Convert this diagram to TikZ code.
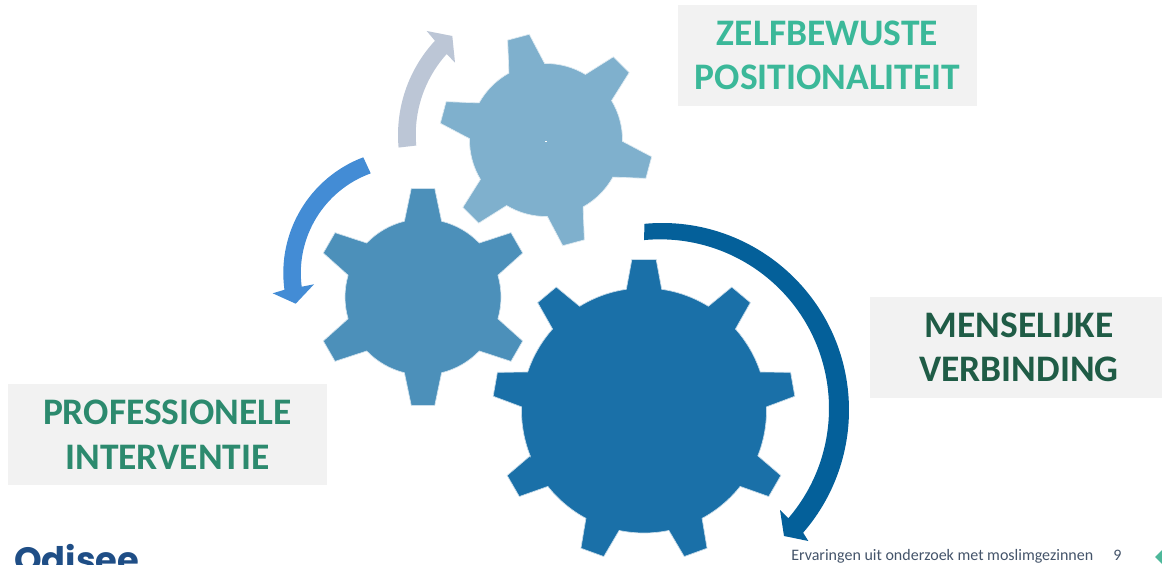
\documentclass[tikz,border=0pt]{standalone}
\usepackage{fontspec}
\setmainfont{Carlito}
\newfontfamily\logofont{Poppins}
\definecolor{gearA}{HTML}{1A70A8}
\definecolor{gearB}{HTML}{4C90BA}
\definecolor{gearC}{HTML}{7FB0CD}
\definecolor{arrA}{HTML}{04609A}
\definecolor{arrB}{HTML}{438CD5}
\definecolor{arrC}{HTML}{BCC6D6}
\definecolor{boxgrey}{HTML}{F2F2F2}
\definecolor{txtA}{HTML}{3BB899}
\definecolor{txtB}{HTML}{1F5C46}
\definecolor{txtC}{HTML}{2C8A6E}
\definecolor{foot}{HTML}{44546A}
\definecolor{logoblue}{HTML}{1F4E86}
\definecolor{tri}{HTML}{4DB89A}
\tikzset{
  gearshape/.style={draw=#1!25!white,line width=.5pt,fill=#1},
  labelbox/.style={fill=boxgrey,inner sep=0pt,align=center,font=\bfseries\fontsize{28.1}{33.4}\selectfont},
  footer/.style={inner sep=0pt,text=foot,font=\fontsize{12}{14}\selectfont,anchor=base west}
}
% #1 cx, #2 cy (y up), #3 root r, #4 tip r, #5 base half angle, #6 tip half angle, #7 first tooth, #8 teeth, #9 colour
\newcommand{\gearpath}[9]{%
  \begin{scope}[shift={(#1,#2)}]
    \pgfmathsetmacro{\gstep}{360/#8}
    \pgfmathsetmacro{\gfirst}{#7-#5}
    \draw[gearshape=#9] (\gfirst:#3)
      foreach \gi in {1,...,#8} {
        let \n1={#7+(\gi-1)*\gstep} in
        -- (\n1-#5:#3) -- (\n1-#6:#4) -- (\n1+#6:#4) -- (\n1+#5:#3)
        arc[start angle=\n1+#5,end angle=\n1+\gstep-#5,radius=#3]
      } -- cycle;
  \end{scope}}
\usetikzlibrary{calc}
\begin{document}
\begin{tikzpicture}[x=.75pt,y=.75pt]
\useasboundingbox (0,0) rectangle (1162,564);
\clip (0,0) rectangle (1162,564);
\fill[white] (0,0) rectangle (1162,564);
% gears
\gearpath{546}{424}{76.5}{107}{14}{6}{105}{6}{gearC}
\gearpath{423}{267}{78}{109}{13.8}{6.2}{90}{6}{gearB}
\gearpath{644}{153.5}{122.5}{151.5}{8.3}{4.6}{90}{9}{gearA}
\fill[white] (545,421.5) rectangle (547,422.5);
% curved block arrows
\fill[arrA] (662,154) ++(95.4:187) arc[start angle=95.4,end angle=-41,radius=187]
  -- (808.3,23) -- (784,28) -- (780,54) -- (788.3,45.7)
  arc[start angle=-40.6,end angle=95.4,radius=169] -- cycle;
\fill[arrC] (536.7,429) ++(185.2:138.7) arc[start angle=185.2,end angle=137.2,radius=138.7]
  -- (426.7,533) -- (452.3,528) -- (455,501.3) -- (446.7,510)
  arc[start angle=138,end angle=185.2,radius=120.5] -- cycle;
\fill[arrB] (407,291) ++(110.7:123.7) arc[start angle=110.7,end angle=187.8,radius=123.7]
  -- (272.7,270.7) -- (295.7,260.3) -- (314,279.7) -- (301.7,277.3)
  arc[start angle=187.4,end angle=109.9,radius=106] -- cycle;
% labels
\node[labelbox,text=txtA,minimum width=299*.75pt,minimum height=101*.75pt] (zelf) at (827.5,508.5) {ZELFBEWUSTE\\POSITIONALITEIT};
\node[labelbox,text=txtB,minimum width=292*.75pt,minimum height=101*.75pt] (mens) at (1016,216.5) {\hspace*{4.5pt}MENSELIJKE\\\hspace*{4.5pt}VERBINDING};
\node[labelbox,text=txtC,minimum width=319*.75pt,minimum height=101*.75pt] (prof) at (167.5,129.5) {PROFESSIONELE\\INTERVENTIE};
% footer
\node[footer] (foottext) at (791,3.3) {Ervaringen uit onderzoek met moslimgezinnen};
\node[footer] (pagenum) at (1113,3.3) {9};
\fill[tri] (1155,7) -- (1162,14) -- (1162,0) -- cycle;
\node[inner sep=0pt,anchor=base west,text=logoblue,font=\logofont\bfseries\fontsize{26.4}{27}\selectfont] (logo) at (14,-8) {Odisee};
\end{tikzpicture}
\end{document}
